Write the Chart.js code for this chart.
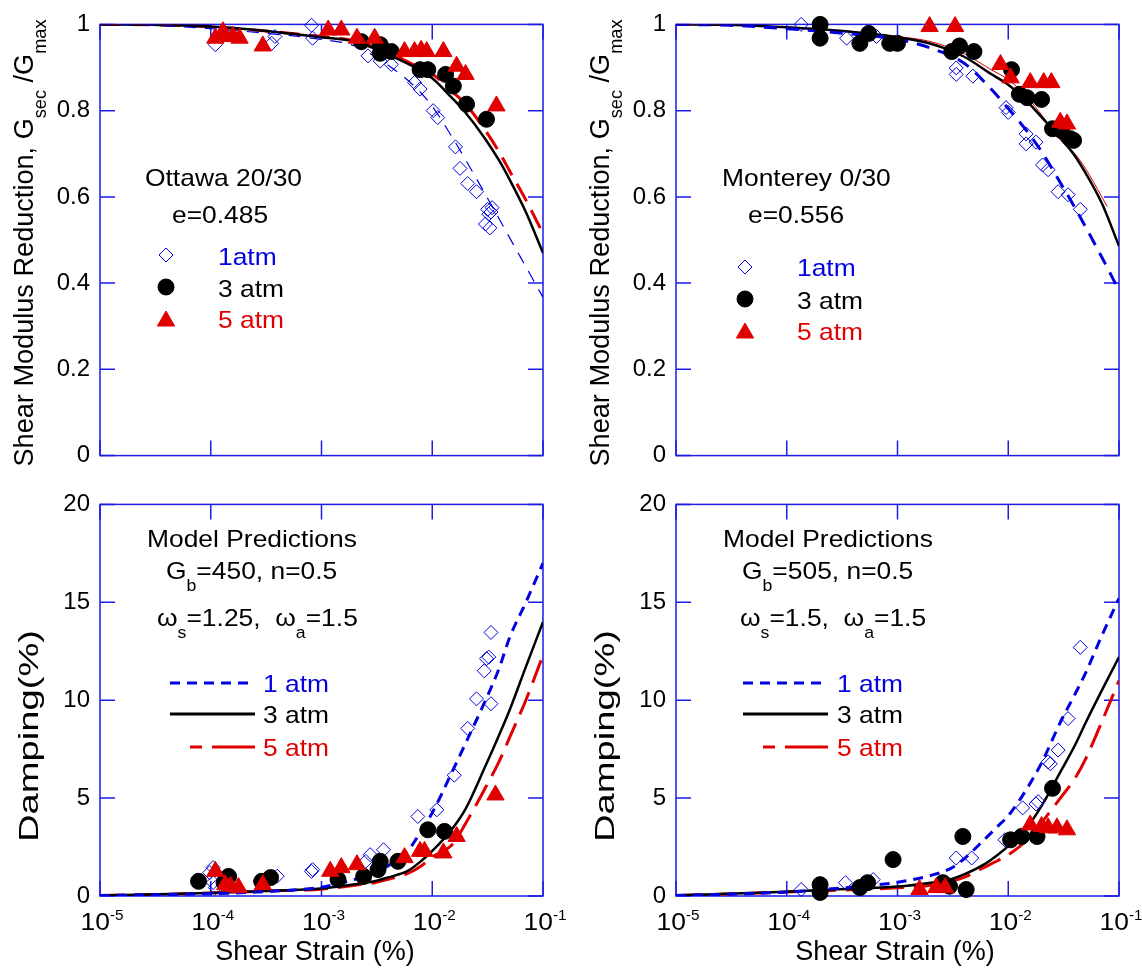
<!DOCTYPE html>
<html>
<head>
<meta charset="utf-8">
<script src="https://cdn.jsdelivr.net/npm/chart.js@4.4.1/dist/chart.umd.min.js"></script>
<style>
body { margin: 0; background: #fff; }
#hoja { position: relative; width: 1142px; height: 969px; }
canvas { position: absolute; }
</style>
</head>
<body>
<div id="hoja">
<canvas id="gOttawa" width="571" height="480" style="left:0;top:0"></canvas>
<canvas id="gMonterey" width="571" height="480" style="left:571px;top:0"></canvas>
<canvas id="dOttawa" width="571" height="489" style="left:0;top:480px"></canvas>
<canvas id="dMonterey" width="571" height="489" style="left:571px;top:480px"></canvas>
</div>
<script>
/* Datos */
// ejes
const decadas = [1e-5, 1e-4, 1e-3, 1e-2, 1e-1]
const exponentes = ['-5', '-4', '-3', '-2', '-1']

// deformacion (%) de las curvas del modelo
const gammaModeloG = [1e-5, 3e-5, 1e-4, 3e-4, 1e-3, 2e-3, 4e-3, 7e-3, 1e-2, 1.5e-2, 2e-2, 3e-2, 4e-2, 5e-2, 7e-2, 1e-1]
const gammaModeloD = [1e-5, 1e-4, 3e-4, 1e-3, 2e-3, 3e-3, 4e-3, 6e-3, 8e-3, 1e-2, 1.5e-2, 2e-2, 3e-2, 4e-2, 5e-2, 7e-2, 1e-1]
const gammaMontereyG5 = [1e-5, 3e-5, 1e-4, 3e-4, 1e-3, 2e-3, 4e-3, 7e-3, 1e-2, 1.5e-2, 2e-2, 3e-2, 4e-2, 5e-2, 7e-2, 7.8e-2]

// Ottawa 20/30, G/Gmax
const ottG1x = [1.10e-4, 3.80e-4, 3.55e-4, 8.13e-4, 8.32e-4, 2.63e-3, 3.39e-3, 4.27e-3, 6.92e-3, 7.76e-3, 1.02e-2, 1.12e-2, 1.62e-2, 1.78e-2, 2.09e-2, 2.51e-2, 3.16e-2, 3.24e-2, 3.39e-2, 3.47e-2, 3.02e-2, 3.31e-2]
const ottG1y = [0.953, 0.972, 0.956, 0.998, 0.968, 0.927, 0.915, 0.907, 0.865, 0.85, 0.80, 0.784, 0.716, 0.666, 0.631, 0.612, 0.571, 0.56, 0.565, 0.575, 0.537, 0.528]
const ottG3x = [2.29e-3, 3.39e-3, 3.39e-3, 4.27e-3, 7.76e-3, 9.12e-3, 1.32e-2, 1.55e-2, 2.04e-2, 3.09e-2]
const ottG3y = [0.96, 0.953, 0.933, 0.937, 0.895, 0.895, 0.884, 0.857, 0.815, 0.78]
const ottG5x = [1.10e-4, 1.29e-4, 1.35e-4, 1.58e-4, 1.82e-4, 2.95e-4, 1.15e-3, 1.51e-3, 2.09e-3, 3.02e-3, 5.62e-3, 6.92e-3, 7.94e-3, 8.91e-3, 1.26e-2, 1.66e-2, 2.00e-2, 3.80e-2]
const ottG5y = [0.968, 0.983, 0.972, 0.972, 0.968, 0.95, 0.987, 0.987, 0.968, 0.968, 0.937, 0.937, 0.94, 0.937, 0.937, 0.903, 0.884, 0.811]
const ottModG1 = [1.0, 0.998, 0.99, 0.98, 0.965, 0.95, 0.905, 0.855, 0.81, 0.74, 0.686, 0.607, 0.55, 0.505, 0.438, 0.367]
const ottModG3 = [1.0, 0.999, 0.995, 0.985, 0.97, 0.96, 0.93, 0.9, 0.875, 0.83, 0.795, 0.735, 0.685, 0.64, 0.565, 0.47]
const ottModG5 = [1.0, 0.999, 0.995, 0.985, 0.972, 0.962, 0.935, 0.905, 0.885, 0.845, 0.815, 0.755, 0.705, 0.66, 0.593, 0.515]

// Monterey 0/30, G/Gmax
const monG1x = [1.35e-4, 3.47e-4, 6.46e-4, 3.39e-3, 3.39e-3, 4.79e-3, 9.55e-3, 1.0e-2, 1.45e-2, 1.78e-2, 1.45e-2, 2.04e-2, 2.29e-2, 2.82e-2, 3.47e-2, 4.47e-2]
const monG1y = [1.0, 0.968, 0.972, 0.899, 0.884, 0.88, 0.807, 0.796, 0.746, 0.727, 0.723, 0.674, 0.663, 0.612, 0.605, 0.571]
const monG3x = [2.0e-4, 2.0e-4, 4.57e-4, 5.50e-4, 8.51e-4, 1.0e-3, 3.09e-3, 3.63e-3, 4.90e-3, 1.07e-2, 1.26e-2, 1.48e-2, 2.0e-2, 2.51e-2, 3.02e-2, 3.63e-2, 3.89e-2]
const monG3y = [1.0, 0.968, 0.956, 0.979, 0.956, 0.956, 0.937, 0.95, 0.937, 0.895, 0.838, 0.83, 0.826, 0.758, 0.754, 0.735, 0.731]
const monG5x = [1.95e-3, 3.31e-3, 8.51e-3, 1.05e-2, 1.58e-2, 2.09e-2, 2.45e-2, 2.95e-2, 3.39e-2]
const monG5y = [0.995, 0.995, 0.907, 0.876, 0.865, 0.865, 0.865, 0.773, 0.769]
const monModG1 = [1.0, 0.998, 0.99, 0.98, 0.965, 0.945, 0.91, 0.85, 0.805, 0.75, 0.705, 0.63, 0.575, 0.53, 0.46, 0.383]
const monModG3 = [1.0, 0.999, 0.993, 0.985, 0.97, 0.955, 0.925, 0.885, 0.86, 0.82, 0.785, 0.735, 0.695, 0.655, 0.585, 0.486]
const monModG5 = [1.0, 0.999, 0.994, 0.986, 0.972, 0.96, 0.932, 0.895, 0.872, 0.83, 0.79, 0.73, 0.70, 0.665, 0.60, 0.578]

// Ottawa 20/30, amortiguamiento (%)
const ottD1x = [2.51e-2, 3.39e-2, 2.09e-2, 1.58e-2, 7.41e-3, 1.10e-2, 3.63e-3, 2.75e-3, 2.51e-3, 8.32e-4, 8.13e-4, 3.98e-4, 1.05e-4, 9.77e-5, 1.05e-4, 1.10e-4, 3.39e-2, 3.09e-2, 3.24e-2, 2.95e-2]
const ottD1y = [10.07, 9.82, 8.56, 6.17, 4.06, 4.40, 2.36, 2.11, 1.77, 1.35, 1.26, 1.01, 1.45, 1.19, 0.69, 0.43, 13.46, 12.12, 12.2, 11.5]
const ottD3x = [7.76e-5, 1.45e-4, 1.32e-4, 2.88e-4, 3.47e-4, 1.41e-3, 2.40e-3, 3.24e-3, 3.39e-3, 4.90e-3, 9.12e-3, 1.29e-2]
const ottD3y = [0.75, 1.0, 0.68, 0.75, 0.94, 0.84, 1.0, 1.35, 1.77, 1.77, 3.38, 3.3]
const ottD5x = [1.10e-4, 1.35e-4, 1.51e-4, 1.78e-4, 2.95e-4, 1.20e-3, 1.51e-3, 2.09e-3, 5.62e-3, 7.76e-3, 8.51e-3, 1.26e-2, 1.66e-2, 3.72e-2]
const ottD5y = [1.26, 0.58, 0.5, 0.43, 0.58, 1.26, 1.45, 1.6, 1.96, 2.28, 2.28, 2.2, 3.04, 5.16]
const ottModD1 = [0.02, 0.12, 0.22, 0.45, 0.85, 1.15, 1.55, 2.3, 3.35, 4.25, 6.3, 7.8, 9.95, 11.6, 13.2, 15.0, 17.0]
const ottModD3 = [0.02, 0.15, 0.25, 0.38, 0.6, 0.75, 0.95, 1.28, 1.8, 2.3, 3.4, 4.45, 6.6, 8.2, 9.5, 11.7, 14.0]
const ottModD5 = [0.02, 0.15, 0.25, 0.35, 0.55, 0.68, 0.85, 1.15, 1.55, 2.0, 2.6, 3.7, 5.5, 6.85, 8.1, 10.0, 12.3]

// Monterey 0/30, amortiguamiento (%)
const monD1x = [4.47e-2, 3.47e-2, 2.82e-2, 2.29e-2, 2.40e-2, 1.86e-2, 1.78e-2, 1.35e-2, 9.33e-3, 3.39e-3, 4.68e-3, 6.03e-4, 3.39e-4, 1.35e-4]
const monD1y = [12.7, 9.06, 7.45, 6.85, 6.75, 4.82, 4.7, 4.5, 2.87, 1.94, 1.94, 0.84, 0.68, 0.33]
const monD3x = [2.0e-4, 2.0e-4, 4.57e-4, 5.37e-4, 9.12e-4, 2.57e-3, 2.95e-3, 3.89e-3, 4.17e-3, 1.05e-2, 1.32e-2, 1.82e-2, 2.51e-2]
const monD3y = [0.58, 0.18, 0.43, 0.68, 1.86, 0.68, 0.5, 3.04, 0.33, 2.87, 3.04, 3.04, 5.5]
const monD5x = [1.58e-3, 2.24e-3, 2.69e-3, 1.58e-2, 2.00e-2, 2.29e-2, 2.75e-2, 3.39e-2]
const monD5y = [0.33, 0.43, 0.43, 3.63, 3.55, 3.48, 3.48, 3.38]
const monModD1 = [0.02, 0.2, 0.4, 0.7, 1.05, 1.4, 1.9, 2.85, 3.55, 4.1, 5.55, 6.8, 8.95, 10.3, 11.4, 13.3, 15.2]
const monModD3 = [0.02, 0.22, 0.35, 0.48, 0.68, 0.85, 1.1, 1.6, 2.1, 2.55, 3.55, 4.6, 6.4, 7.7, 8.85, 10.5, 12.2]
const monModD5 = [0.02, 0.2, 0.3, 0.42, 0.55, 0.75, 0.95, 1.45, 1.8, 2.1, 2.9, 3.75, 5.05, 6.0, 7.0, 8.9, 11.0]

/* Estilos */
const AZUL = '#0000e0'
const ROJO = '#e00000'
const NEGRO = '#000000'
const AZUL_EJE = '#1c1ce6'
const FUENTE = "'Liberation Sans', Arial, sans-serif"

const rombo = { pointStyle: 'rectRot', radius: 7, fondo: 'rgba(0,0,0,0)', borde: AZUL, grosor: 1 }
const circulo = { pointStyle: 'circle', radius: 8, fondo: NEGRO, borde: NEGRO, grosor: 1 }
const triangulo = { pointStyle: 'triangle', radius: 10, fondo: ROJO, borde: ROJO, grosor: 1 }

function Pares(xs, ys) {
    return xs.map((x, i) => ({ x: x, y: ys[i] }))
}

function Puntos(xs, ys, m) {
    return {
        data: Pares(xs, ys),
        showLine: false,
        pointStyle: m.pointStyle,
        pointRadius: m.radius,
        pointBackgroundColor: m.fondo,
        pointBorderColor: m.borde,
        pointBorderWidth: m.grosor,
        clip: false,
        order: 1
    }
}

function Linea(xs, ys, color, ancho, guiones) {
    return {
        data: Pares(xs, ys),
        showLine: true,
        borderColor: color,
        borderWidth: ancho,
        borderDash: guiones,
        pointRadius: 0,
        cubicInterpolationMode: 'monotone',
        fill: false,
        order: 2
    }
}

/* Texto con subindices y superindices: partes = [[texto, 0 normal | 1 sub | 2 sup]] */
function TamParte(p, size) {
    return p[1] === 1 ? size * 0.67 : (p[1] === 2 ? size * 0.58 : size)
}

function MedirPartes(ctx, partes, size) {
    let total = 0
    partes.forEach(p => {
        ctx.font = `${TamParte(p, size)}px ${FUENTE}`
        total += ctx.measureText(p[0]).width
    })
    return total
}

function DibujarPartes(ctx, partes, x, base, size) {
    partes.forEach(p => {
        let dy = p[1] === 1 ? size * 0.5 : (p[1] === 2 ? -size * 0.42 : 0)
        ctx.font = `${TamParte(p, size)}px ${FUENTE}`
        ctx.fillText(p[0], x, base + dy)
        x += ctx.measureText(p[0]).width
    })
}

// y = centro de las mayusculas
function Texto(ctx, partes, x, y, size, color, alinear, estira) {
    ctx.save()
    ctx.fillStyle = color
    ctx.textAlign = 'left'
    ctx.textBaseline = 'alphabetic'
    let ancho = MedirPartes(ctx, partes, size)
    ctx.translate(x, y)
    ctx.scale(estira, 1)
    let x0 = alinear === 'center' ? -ancho / 2 : (alinear === 'right' ? -ancho : 0)
    DibujarPartes(ctx, partes, x0, size * 0.358, size)
    ctx.restore()
}

function TituloVertical(ctx, partes, cx, cy, size, largo) {
    ctx.save()
    ctx.fillStyle = NEGRO
    ctx.textAlign = 'left'
    ctx.textBaseline = 'alphabetic'
    let ancho = MedirPartes(ctx, partes, size)
    ctx.translate(cx, cy)
    ctx.rotate(-Math.PI / 2)
    ctx.scale(largo / ancho, 1)
    DibujarPartes(ctx, partes, -ancho / 2, size * 0.358, size)
    ctx.restore()
}

/* Marco con marcas interiores y textos del panel */
function PluginPanel(conf) {
    return {
        id: 'panel_' + conf.id,
        beforeDatasetsDraw(chart) {
            let ctx = chart.ctx
            let a = chart.chartArea
            let ex = chart.scales.x
            let ey = chart.scales.y
            ctx.save()
            ctx.strokeStyle = AZUL_EJE
            ctx.lineWidth = 1.5
            ctx.strokeRect(a.left, a.top, a.right - a.left, a.bottom - a.top)
            ctx.beginPath()
            decadas.forEach(d => {
                let px = ex.getPixelForValue(d)
                ctx.moveTo(px, a.bottom)
                ctx.lineTo(px, a.bottom - 15)
                ctx.moveTo(px, a.top)
                ctx.lineTo(px, a.top + 15)
            })
            ey.ticks.forEach(t => {
                let py = ey.getPixelForValue(t.value)
                ctx.moveTo(a.left, py)
                ctx.lineTo(a.left + 15, py)
                ctx.moveTo(a.right, py)
                ctx.lineTo(a.right - 15, py)
            })
            ctx.stroke()
            ctx.restore()
        },
        afterDraw(chart) {
            let ctx = chart.ctx
            let ex = chart.scales.x
            if (conf.etiquetasX) {
                decadas.forEach((d, i) => {
                    Texto(ctx, [['10', 0], [exponentes[i], 2]], ex.getPixelForValue(d) + 2, conf.etiquetasX, 24, NEGRO, 'center', 1.1)
                })
                Texto(ctx, [['Shear Strain (%)', 0]], conf.tituloX[0], conf.tituloX[1], 27, NEGRO, 'center', 1.0)
            }
            TituloVertical(ctx, conf.tituloY, conf.posTituloY[0], conf.posTituloY[1], 27, conf.posTituloY[2])
            conf.notas.forEach(n => {
                Texto(ctx, n.partes, n.x, n.y, 24, n.color || NEGRO, 'left', 1.1)
            })
            if (conf.leyendaPuntos) {
                let l = conf.leyendaPuntos
                l.filas.forEach(f => {
                    ctx.save()
                    ctx.fillStyle = f.m.fondo
                    ctx.strokeStyle = f.m.borde
                    ctx.lineWidth = f.m.grosor
                    Chart.helpers.drawPoint(ctx, { pointStyle: f.m.pointStyle, radius: f.m.radius, rotation: 0, borderWidth: f.m.grosor }, l.xMarca, f.yMarca)
                    ctx.restore()
                    Texto(ctx, [[f.texto, 0]], l.xTexto, f.y, 24, f.color, 'left', 1.1)
                })
            }
            if (conf.leyendaLineas) {
                let l = conf.leyendaLineas
                l.filas.forEach(f => {
                    ctx.save()
                    ctx.strokeStyle = f.color
                    ctx.lineWidth = f.ancho
                    ctx.setLineDash(f.guiones)
                    ctx.beginPath()
                    ctx.moveTo(f.x0, f.y)
                    ctx.lineTo(l.xFin, f.y)
                    ctx.stroke()
                    ctx.restore()
                    Texto(ctx, [[f.texto, 0]], l.xTexto, f.y, 24, f.color, 'left', 1.1)
                })
            }
        }
    }
}

function CrearPanel(id, conf) {
    let canvas = document.getElementById(id)
    return new Chart(canvas, {
        type: 'scatter',
        data: { datasets: conf.datasets },
        options: {
            responsive: false,
            animation: false,
            devicePixelRatio: 1,
            layout: { autoPadding: false, padding: conf.padding },
            plugins: { legend: { display: false }, tooltip: { enabled: false } },
            scales: {
                x: {
                    type: 'logarithmic',
                    min: 1e-5,
                    max: 1e-1,
                    grid: { display: false, drawTicks: false },
                    border: { display: false },
                    ticks: { display: false },
                    afterFit: s => { s.height = conf.altoX }
                },
                y: {
                    min: conf.yMin,
                    max: conf.yMax,
                    grid: { display: false, drawTicks: false },
                    border: { display: false },
                    ticks: {
                        stepSize: conf.paso,
                        padding: 10,
                        color: NEGRO,
                        font: { family: FUENTE, size: 24 },
                        callback: v => String(Number(v.toFixed(2)))
                    },
                    afterFit: s => { s.width = conf.anchoY }
                }
            }
        },
        plugins: [PluginPanel(conf)]
    })
}

const tituloG = [['Shear Modulus Reduction, G', 0], ['sec', 1], [' /G', 0], ['max', 1]]
const tituloD = [['Damping(%)', 0]]

function FilasPuntos(y1, y3, y5, m1, m3, m5) {
    return [
        { m: rombo, yMarca: m1, texto: '1atm', y: y1, color: AZUL },
        { m: circulo, yMarca: m3, texto: '3 atm', y: y3, color: NEGRO },
        { m: triangulo, yMarca: m5, texto: '5 atm', y: y5, color: ROJO }
    ]
}

function FilasLineas(x0, xr) {
    return [
        { texto: '1 atm', color: AZUL, ancho: 3, guiones: [10, 7], x0: x0, y: 203 },
        { texto: '3 atm', color: NEGRO, ancho: 3, guiones: [], x0: x0, y: 234 },
        { texto: '5 atm', color: ROJO, ancho: 3, guiones: [12, 10, 32, 0], x0: xr, y: 267 }
    ]
}

let graficos = []

graficos.push(CrearPanel('gOttawa', {
    id: 'gOttawa',
    padding: { left: 0, right: 28, top: 21, bottom: 0 },
    anchoY: 100, altoX: 23, yMin: 0, yMax: 1, paso: 0.2,
    tituloY: tituloG, posTituloY: [23, 243, 447],
    notas: [
        { partes: [['Ottawa 20/30', 0]], x: 145, y: 177 },
        { partes: [['e=0.485', 0]], x: 172, y: 214 }
    ],
    leyendaPuntos: { xMarca: 166, xTexto: 218, filas: FilasPuntos(256, 288, 319, 255, 287, 321) },
    datasets: [
        Puntos(ottG5x, ottG5y, triangulo),
        Puntos(ottG3x, ottG3y, circulo),
        Puntos(ottG1x, ottG1y, rombo),
        Linea(gammaModeloG, ottModG1, AZUL, 1.2, [12, 9]),
        Linea(gammaModeloG, ottModG3, NEGRO, 2.5, []),
        Linea(gammaModeloG, ottModG5, ROJO, 3, [20, 10])
    ]
}))

graficos.push(CrearPanel('gMonterey', {
    id: 'gMonterey',
    padding: { left: 0, right: 23, top: 21, bottom: 0 },
    anchoY: 105, altoX: 23, yMin: 0, yMax: 1, paso: 0.2,
    tituloY: tituloG, posTituloY: [28, 243, 447],
    notas: [
        { partes: [['Monterey 0/30', 0]], x: 151, y: 177 },
        { partes: [['e=0.556', 0]], x: 177, y: 214 }
    ],
    leyendaPuntos: { xMarca: 174, xTexto: 226, filas: FilasPuntos(267, 300, 331, 267, 299, 333) },
    datasets: [
        Puntos(monG5x, monG5y, triangulo),
        Puntos(monG3x, monG3y, circulo),
        Puntos(monG1x, monG1y, rombo),
        Linea(gammaModeloG, monModG1, AZUL, 3, [13, 9]),
        Linea(gammaModeloG, monModG3, NEGRO, 2.5, []),
        Linea(gammaMontereyG5, monModG5, ROJO, 1, [])
    ]
}))

graficos.push(CrearPanel('dOttawa', {
    id: 'dOttawa',
    padding: { left: 0, right: 28, top: 23, bottom: 0 },
    anchoY: 100, altoX: 73, yMin: 0, yMax: 20, paso: 5,
    etiquetasX: 441, tituloX: [315, 470],
    tituloY: tituloD, posTituloY: [28, 256, 212],
    notas: [
        { partes: [['Model Predictions', 0]], x: 147, y: 58 },
        { partes: [['G', 0], ['b', 1], ['=450, n=0.5', 0]], x: 166, y: 90 },
        { partes: [['ω', 0], ['s', 1], ['=1.25,  ω', 0], ['a', 1], ['=1.5', 0]], x: 157, y: 137 }
    ],
    leyendaLineas: { xFin: 255, xTexto: 263, filas: FilasLineas(170, 190) },
    datasets: [
        Puntos(ottD5x, ottD5y, triangulo),
        Puntos(ottD3x, ottD3y, circulo),
        Puntos(ottD1x, ottD1y, rombo),
        Linea(gammaModeloD, ottModD1, AZUL, 3, [10, 7]),
        Linea(gammaModeloD, ottModD3, NEGRO, 2.5, []),
        Linea(gammaModeloD, ottModD5, ROJO, 3, [24, 10])
    ]
}))

graficos.push(CrearPanel('dMonterey', {
    id: 'dMonterey',
    padding: { left: 0, right: 23, top: 23, bottom: 0 },
    anchoY: 105, altoX: 73, yMin: 0, yMax: 20, paso: 5,
    etiquetasX: 441, tituloX: [324, 470],
    tituloY: tituloD, posTituloY: [33, 256, 212],
    notas: [
        { partes: [['Model Predictions', 0]], x: 152, y: 58 },
        { partes: [['G', 0], ['b', 1], ['=505, n=0.5', 0]], x: 171, y: 90 },
        { partes: [['ω', 0], ['s', 1], ['=1.5,  ω', 0], ['a', 1], ['=1.5', 0]], x: 169, y: 137 }
    ],
    leyendaLineas: { xFin: 257, xTexto: 266, filas: FilasLineas(172, 192) },
    datasets: [
        Puntos(monD5x, monD5y, triangulo),
        Puntos(monD3x, monD3y, circulo),
        Puntos(monD1x, monD1y, rombo),
        Linea(gammaModeloD, monModD1, AZUL, 3, [10, 7]),
        Linea(gammaModeloD, monModD3, NEGRO, 2.5, []),
        Linea(gammaModeloD, monModD5, ROJO, 3, [24, 10])
    ]
}))
</script>
</body>
</html>
